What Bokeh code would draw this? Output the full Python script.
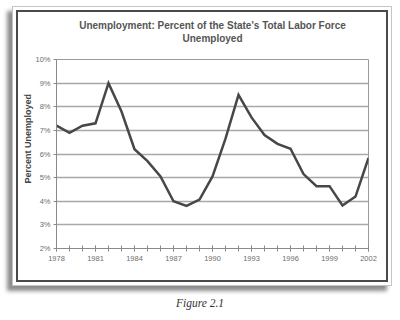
from bokeh.plotting import figure
from bokeh.layouts import column
from bokeh.models import Range1d, FixedTicker, PrintfTickFormatter, Title, Div
from bokeh.embed import file_html
from bokeh.resources import INLINE

# ---- data ----
years = list(range(1978, 2003))
unemployment = [7.2, 6.9, 7.2, 7.3, 9.0, 7.8, 6.2, 5.7, 5.05, 4.0, 3.8, 4.07,
                5.05, 6.65, 8.5, 7.55, 6.8, 6.43, 6.22, 5.15, 4.64, 4.64,
                3.82, 4.2, 5.83]
x_tick_years = [1978, 1981, 1984, 1987, 1990, 1993, 1996, 1999, 2002]
y_ticks = [2, 3, 4, 5, 6, 7, 8, 9, 10]
title_line1 = "Unemployment: Percent of the State's Total Labor Force"
title_line2 = "Unemployed"
y_label = "Percent Unemployed"
caption = "Figure 2.1"

FONT = "Liberation Sans"

p = figure(width=380, height=280, x_range=Range1d(1978, 2002), y_range=Range1d(2, 10),
           output_backend="svg", toolbar_location=None,
           min_border_left=43, min_border_right=25,
           min_border_top=52, min_border_bottom=39,
           margin=(6, 8, 0, 12))
p.styles = {
    "border": "1px solid #c4c4c4",
    "box-shadow": "-5px 5px 4px rgba(0,0,0,0.45)",
    "outline": "2px solid #4a4a4a",
    "outline-offset": "-6px",
    "background-color": "white",
}
p.background_fill_color = "white"
p.border_fill_color = None
p.outline_line_color = "#9a9a9a"
p.outline_line_width = 1

# two-line title; a blank spacer keeps it clear of the plot frame
p.title.text = ""
title_style = dict(align="center", text_font=FONT, text_font_size="10px",
                   text_font_style="bold", text_color="#555555")
p.add_layout(Title(text=" ", standoff=3, **title_style), "above")
p.add_layout(Title(text=title_line2, standoff=0, **title_style), "above")
p.add_layout(Title(text=title_line1, standoff=0, **title_style), "above")

# grid
p.xgrid.visible = False
p.ygrid.ticker = FixedTicker(ticks=y_ticks)
p.ygrid.grid_line_color = "#a8a8a8"
p.ygrid.grid_line_width = 1.3

# x axis
p.xaxis.ticker = FixedTicker(ticks=x_tick_years, minor_ticks=years)
p.xaxis.axis_line_color = "#8a8a8a"
p.xaxis.major_tick_line_color = "#8a8a8a"
p.xaxis.minor_tick_line_color = "#8a8a8a"
p.xaxis.major_tick_in = 3
p.xaxis.major_tick_out = 3
p.xaxis.minor_tick_in = 3
p.xaxis.minor_tick_out = 3
p.xaxis.major_label_standoff = 4
p.xaxis.major_label_text_font = FONT
p.xaxis.major_label_text_font_size = "7.5px"
p.xaxis.major_label_text_color = "#6e6e6e"

# y axis
p.yaxis.ticker = FixedTicker(ticks=y_ticks)
p.yaxis.formatter = PrintfTickFormatter(format="%d%%")
p.yaxis.axis_line_color = "#8a8a8a"
p.yaxis.major_tick_line_color = "#8a8a8a"
p.yaxis.major_tick_in = 0
p.yaxis.major_tick_out = 3
p.yaxis.minor_tick_line_color = None
p.yaxis.major_label_standoff = 3
p.yaxis.major_label_text_font = FONT
p.yaxis.major_label_text_font_size = "7.5px"
p.yaxis.major_label_text_color = "#6e6e6e"

# y label as a left-side title, starting 65px above the frame bottom
p.add_layout(Title(text=y_label, align="left", offset=65, text_font=FONT,
                   text_font_size="9px", text_font_style="bold",
                   text_color="#444444", standoff=0), "left")

# data line
p.line(years, unemployment, line_color="#474747", line_width=2.5, line_join="miter")

cap = Div(text=caption, width=400, margin=(9, 0, 0, 0),
          styles={"font-family": "Liberation Serif", "font-style": "italic",
                  "font-size": "11.5px", "color": "#333333",
                  "text-align": "center"})

root = column(p, cap, spacing=0)
open("out.html", "w").write(file_html(root, INLINE))
